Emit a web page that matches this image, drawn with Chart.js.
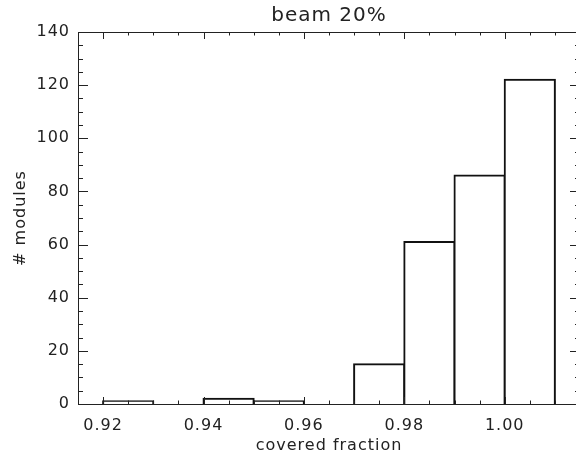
<!DOCTYPE html>
<html>
<head>
<meta charset="utf-8">
<script src="https://cdn.jsdelivr.net/npm/chart.js@4.4.1/dist/chart.umd.min.js"></script>
<style>
    html, body { margin: 0; padding: 0; background: #fff; overflow: hidden; }
    #wrap { width: 584px; height: 461px; }
</style>
</head>
<body>
<div id="wrap"><canvas id="histChart"></canvas></div>
<script>
// Histogram data (bin centres, bin width 0.01)
const binCenters = [0.925, 0.935, 0.945, 0.955, 0.965, 0.975, 0.985, 0.995, 1.005];
const binCounts = [1, 0, 2, 1, 0, 15, 61, 86, 122];

// Axis ticks
const xTicks = [0.92, 0.94, 0.96, 0.98, 1.00];
const yTicks = [0, 20, 40, 60, 80, 100, 120, 140];

const inkColor = '#222';
const fontFamily = '"DejaVu Sans", sans-serif';

// A bit of extra letter spacing, like the original plot font
const spacedText = {
    id: 'spacedText',
    beforeUpdate(chart) { chart.ctx.letterSpacing = '1px'; },
    beforeLayout(chart) { chart.ctx.letterSpacing = '1px'; },
    beforeDraw(chart) { chart.ctx.letterSpacing = '1px'; }
};

// Draw the box with inward ticks on all four sides
const frameTicks = {
    id: 'frameTicks',
    afterDraw(chart) {
        const ctx = chart.ctx;
        const area = chart.chartArea;
        const xs = chart.scales.x;
        const ys = chart.scales.y;
        ctx.save();
        ctx.strokeStyle = inkColor;
        ctx.lineWidth = 1;
        ctx.strokeRect(area.left + 0.5, area.top + 0.5, area.right - area.left, area.bottom - area.top);

        ctx.beginPath();
        // x ticks every 0.005, major every 0.02
        for (let i = 0; i <= 20; i++) {
            const v = 0.915 + i * 0.005;
            const major = xTicks.some(t => Math.abs(t - v) < 1e-6);
            const len = major ? 7 : 3.5;
            const px = Math.round(xs.getPixelForValue(v)) + 0.5;
            ctx.moveTo(px, area.bottom);
            ctx.lineTo(px, area.bottom - len);
            ctx.moveTo(px, area.top);
            ctx.lineTo(px, area.top + len);
        }
        // y ticks every 5, major every 20
        for (let v = 0; v <= 140; v += 5) {
            const major = v % 20 === 0;
            const len = major ? 10 : 5;
            const py = Math.round(ys.getPixelForValue(v)) + 0.5;
            ctx.moveTo(area.left, py);
            ctx.lineTo(area.left + len, py);
            ctx.moveTo(area.right, py);
            ctx.lineTo(area.right - len, py);
        }
        ctx.stroke();
        ctx.restore();
    }
};

const ctx = document.getElementById('histChart').getContext('2d');
new Chart(ctx, {
    type: 'bar',
    data: {
        datasets: [{
            data: binCenters.map((c, i) => ({ x: c, y: binCounts[i] })),
            backgroundColor: '#ffffff',
            borderColor: '#111',
            borderWidth: 2,
            borderSkipped: 'start',
            inflateAmount: 1,
            barPercentage: 1,
            categoryPercentage: 1
        }]
    },
    options: {
        responsive: true,
        maintainAspectRatio: false,
        animation: false,
        layout: { padding: { left: 0, right: 4, top: 0, bottom: 0 } },
        plugins: {
            legend: { display: false },
            tooltip: { enabled: false },
            title: { display: false }
        },
        scales: {
            x: {
                type: 'linear',
                min: 0.915,
                max: 1.015,
                offset: false,
                afterBuildTicks: s => { s.ticks = xTicks.map(v => ({ value: v })); },
                afterFit: s => { s.height = 57; },
                grid: { display: false, drawTicks: false },
                border: { display: false },
                ticks: {
                    autoSkip: false,
                    maxRotation: 0,
                    padding: 12,
                    color: inkColor,
                    font: { family: fontFamily, size: 16 },
                    callback: v => v.toFixed(2)
                },
                title: {
                    display: true,
                    text: 'covered fraction',
                    color: inkColor,
                    font: { family: fontFamily, size: 16 },
                    padding: { top: 0, bottom: 6 }
                }
            },
            // top axis only carries the plot title, centred over the plot box
            xTop: {
                type: 'linear',
                position: 'top',
                display: true,
                min: 0.915,
                max: 1.015,
                offset: false,
                afterFit: s => { s.height = 32; },
                grid: { display: false, drawTicks: false },
                border: { display: false },
                ticks: { display: false },
                title: {
                    display: true,
                    text: 'beam 20%',
                    color: inkColor,
                    font: { family: fontFamily, size: 20 },
                    padding: { top: 3.5, bottom: 0 }
                }
            },
            y: {
                min: 0,
                max: 140,
                afterBuildTicks: s => { s.ticks = yTicks.map(v => ({ value: v })); },
                afterFit: s => { s.width = 78; },
                grid: { display: false, drawTicks: false },
                border: { display: false },
                ticks: {
                    autoSkip: false,
                    padding: 8,
                    color: inkColor,
                    font: { family: fontFamily, size: 16 }
                },
                title: {
                    display: true,
                    text: '# modules',
                    color: inkColor,
                    font: { family: fontFamily, size: 16 },
                    padding: { top: 11.4, bottom: 0 }
                }
            }
        }
    },
    plugins: [spacedText, frameTicks]
});
</script>
</body>
</html>
